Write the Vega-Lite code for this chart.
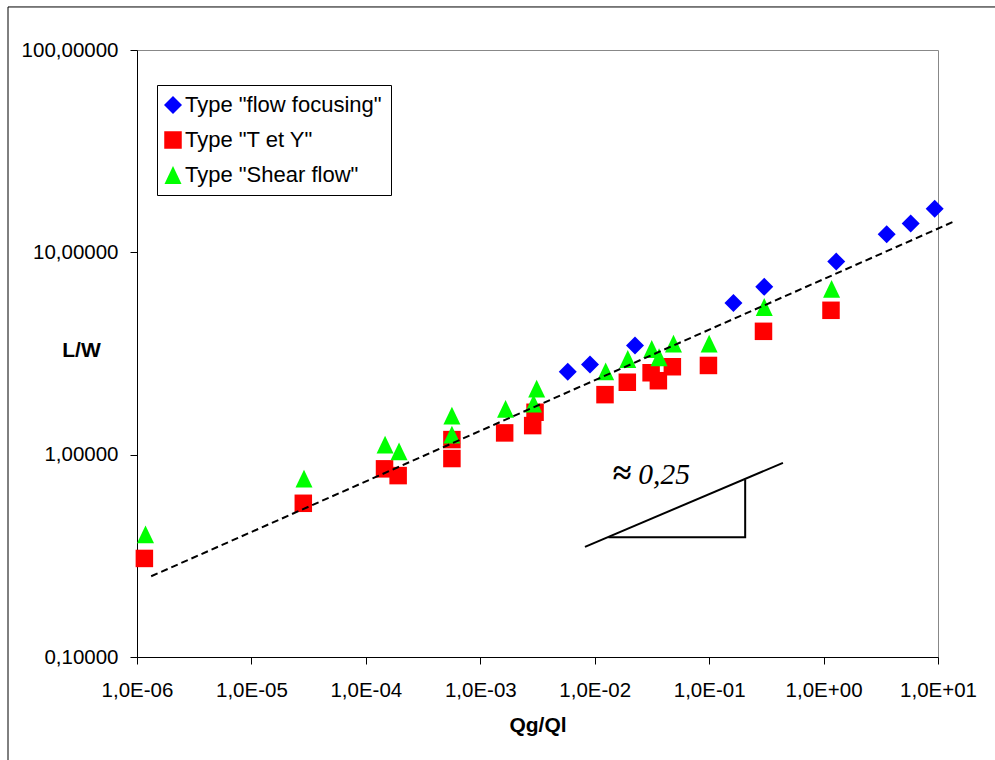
{
  "$schema": "https://vega.github.io/schema/vega-lite/v6.json",
  "width": 801,
  "height": 607,
  "autosize": {"type": "none"},
  "padding": {"left": 137, "top": 50, "right": 57, "bottom": 103},
  "background": "white",
  "config": {"view": {"stroke": "#888888", "strokeWidth": 1}, "font": "Liberation Sans"},
  "datasets": {
    "points": [
      {"type": "Type \"flow focusing\"", "x": 0.00581, "y": 2.57},
      {"type": "Type \"flow focusing\"", "x": 0.0091, "y": 2.79},
      {"type": "Type \"flow focusing\"", "x": 0.0225, "y": 3.46},
      {"type": "Type \"flow focusing\"", "x": 0.163, "y": 5.62},
      {"type": "Type \"flow focusing\"", "x": 0.303, "y": 6.75},
      {"type": "Type \"flow focusing\"", "x": 1.29, "y": 9.0},
      {"type": "Type \"flow focusing\"", "x": 3.56, "y": 12.3},
      {"type": "Type \"flow focusing\"", "x": 5.77, "y": 13.9},
      {"type": "Type \"flow focusing\"", "x": 9.36, "y": 16.4},
      {"type": "Type \"T et Y\"", "x": 1.16e-6, "y": 0.307},
      {"type": "Type \"T et Y\"", "x": 2.84e-5, "y": 0.575},
      {"type": "Type \"T et Y\"", "x": 1.456e-4, "y": 0.851},
      {"type": "Type \"T et Y\"", "x": 1.915e-4, "y": 0.788},
      {"type": "Type \"T et Y\"", "x": 5.65e-4, "y": 1.187},
      {"type": "Type \"T et Y\"", "x": 5.65e-4, "y": 0.957},
      {"type": "Type \"T et Y\"", "x": 1.633e-3, "y": 1.281},
      {"type": "Type \"T et Y\"", "x": 3.01e-3, "y": 1.62},
      {"type": "Type \"T et Y\"", "x": 2.87e-3, "y": 1.392},
      {"type": "Type \"T et Y\"", "x": 0.0123, "y": 1.98},
      {"type": "Type \"T et Y\"", "x": 0.01927, "y": 2.28},
      {"type": "Type \"T et Y\"", "x": 0.0311, "y": 2.54},
      {"type": "Type \"T et Y\"", "x": 0.036, "y": 2.32},
      {"type": "Type \"T et Y\"", "x": 0.0477, "y": 2.72},
      {"type": "Type \"T et Y\"", "x": 0.0986, "y": 2.76},
      {"type": "Type \"T et Y\"", "x": 0.2985, "y": 4.07},
      {"type": "Type \"T et Y\"", "x": 1.161, "y": 5.17},
      {"type": "Type \"Shear flow\"", "x": 1.187e-6, "y": 0.404},
      {"type": "Type \"Shear flow\"", "x": 2.88e-5, "y": 0.762},
      {"type": "Type \"Shear flow\"", "x": 1.472e-4, "y": 1.122},
      {"type": "Type \"Shear flow\"", "x": 1.95e-4, "y": 1.039},
      {"type": "Type \"Shear flow\"", "x": 5.65e-4, "y": 1.56},
      {"type": "Type \"Shear flow\"", "x": 5.65e-4, "y": 1.257},
      {"type": "Type \"Shear flow\"", "x": 1.663e-3, "y": 1.684},
      {"type": "Type \"Shear flow\"", "x": 3.11e-3, "y": 2.12},
      {"type": "Type \"Shear flow\"", "x": 2.92e-3, "y": 1.79},
      {"type": "Type \"Shear flow\"", "x": 0.01247, "y": 2.58},
      {"type": "Type \"Shear flow\"", "x": 0.01945, "y": 2.97},
      {"type": "Type \"Shear flow\"", "x": 0.0315, "y": 3.33},
      {"type": "Type \"Shear flow\"", "x": 0.0365, "y": 3.03},
      {"type": "Type \"Shear flow\"", "x": 0.0488, "y": 3.54},
      {"type": "Type \"Shear flow\"", "x": 0.1, "y": 3.54},
      {"type": "Type \"Shear flow\"", "x": 0.303, "y": 5.37},
      {"type": "Type \"Shear flow\"", "x": 1.175, "y": 6.6}
    ],
    "trend": [
      {"x": 1.33e-6, "y": 0.2506},
      {"x": 13.4, "y": 14.1}
    ],
    "slope": [
      {"x": 0.00822, "y": 0.3503},
      {"x": 0.4416, "y": 0.911}
    ],
    "leg": [
      {"o": 1, "x": 0.01315, "y": 0.3908},
      {"o": 2, "x": 0.2065, "y": 0.3908},
      {"o": 3, "x": 0.2065, "y": 0.753}
    ],
    "labels": [
      {"t": "≈", "x": 0.0173, "y": 0.714},
      {"t": "0,25", "x": 0.02404, "y": 0.714}
    ]
  },
  "layer": [
    {
      "data": {"name": "points"},
      "mark": {"type": "point", "filled": true, "opacity": 1, "strokeWidth": 0},
      "encoding": {
        "x": {
          "field": "x", "type": "quantitative",
          "scale": {"type": "log", "domain": [1e-6, 10], "nice": false},
          "axis": {
            "values": [1e-6, 1e-5, 1e-4, 1e-3, 1e-2, 1e-1, 1, 10],
            "labelExpr": "'1,0E' + (round(log(datum.value)/LN10) < 0 ? '-' : '+') + (abs(round(log(datum.value)/LN10)) < 10 ? '0' : '') + abs(round(log(datum.value)/LN10))",
            "grid": false, "tickSize": 7, "tickColor": "black", "domainColor": "black",
            "labelColor": "black", "labelFontSize": 20.5, "labelFont": "Liberation Sans",
            "labelPadding": 16, "labelFlush": false, "labelOverlap": false,
            "title": "Qg/Ql", "titleFontSize": 21, "titleFontWeight": "bold", "titleColor": "black",
            "titleFont": "Liberation Sans", "titleY": 68, "titleBaseline": "middle"
          }
        },
        "y": {
          "field": "y", "type": "quantitative",
          "scale": {"type": "log", "domain": [0.1, 100], "nice": false},
          "axis": {
            "values": [0.1, 1, 10, 100],
            "labelExpr": "replace(format(datum.value, '.5f'), '.', ',')",
            "grid": false, "tickSize": 7, "tickColor": "black", "domainColor": "black",
            "labelColor": "black", "labelFontSize": 20.5, "labelFont": "Liberation Sans",
            "labelPadding": 12, "labelFlush": false, "labelOverlap": false,
            "title": "L/W", "titleAngle": 0, "titleX": -56, "titleY": 300,
            "titleAlign": "center", "titleBaseline": "middle",
            "titleFontSize": 21, "titleFontWeight": "bold", "titleColor": "black", "titleFont": "Liberation Sans"
          }
        },
        "color": {
          "field": "type", "type": "nominal",
          "scale": {"domain": ["Type \"flow focusing\"", "Type \"T et Y\"", "Type \"Shear flow\""], "range": ["#0000FF", "#FF0000", "#00FF00"]},
          "legend": {
            "title": null, "orient": "none", "legendX": 20, "legendY": 35,
            "fillColor": "white", "strokeColor": "black", "padding": 9,
            "labelFontSize": 22, "labelFont": "Liberation Sans", "labelColor": "black", "labelLimit": 0,
            "symbolSize": 220, "rowPadding": 13, "labelOffset": 1, "symbolOffset": -4, "symbolStrokeWidth": 0
          }
        },
        "shape": {
          "field": "type", "type": "nominal",
          "scale": {"domain": ["Type \"flow focusing\"", "Type \"T et Y\"", "Type \"Shear flow\""], "range": ["diamond", "square", "M0,-1.05L1,1.05L-1,1.05Z"]}
        },
        "size": {
          "field": "type", "type": "nominal", "legend": null,
          "scale": {"domain": ["Type \"flow focusing\"", "Type \"T et Y\"", "Type \"Shear flow\""], "range": [324, 289, 335]}
        }
      }
    },
    {
      "data": {"name": "trend"},
      "mark": {"type": "line", "color": "black", "strokeWidth": 2, "strokeDash": [7, 4], "clip": false},
      "encoding": {
        "x": {"field": "x", "type": "quantitative", "scale": {"type": "log"}},
        "y": {"field": "y", "type": "quantitative", "scale": {"type": "log"}}
      }
    },
    {
      "data": {"name": "slope"},
      "mark": {"type": "line", "color": "black", "strokeWidth": 2},
      "encoding": {
        "x": {"field": "x", "type": "quantitative", "scale": {"type": "log"}},
        "y": {"field": "y", "type": "quantitative", "scale": {"type": "log"}}
      }
    },
    {
      "data": {"name": "leg"},
      "mark": {"type": "line", "color": "black", "strokeWidth": 2},
      "encoding": {
        "x": {"field": "x", "type": "quantitative", "scale": {"type": "log"}},
        "y": {"field": "y", "type": "quantitative", "scale": {"type": "log"}},
        "order": {"field": "o", "type": "quantitative"}
      }
    },
    {
      "data": {"name": "labels"},
      "transform": [{"filter": "datum.t == '≈'"}],
      "mark": {"type": "text", "font": "Liberation Serif", "fontSize": 34, "fontWeight": "bold", "align": "center", "baseline": "alphabetic", "color": "black"},
      "encoding": {
        "x": {"field": "x", "type": "quantitative", "scale": {"type": "log"}},
        "y": {"field": "y", "type": "quantitative", "scale": {"type": "log"}},
        "text": {"field": "t"}
      }
    },
    {
      "data": {"name": "labels"},
      "transform": [{"filter": "datum.t != '≈'"}],
      "mark": {"type": "text", "font": "Liberation Serif", "fontSize": 29.5, "fontStyle": "italic", "align": "left", "baseline": "alphabetic", "color": "black"},
      "encoding": {
        "x": {"field": "x", "type": "quantitative", "scale": {"type": "log"}},
        "y": {"field": "y", "type": "quantitative", "scale": {"type": "log"}},
        "text": {"field": "t"}
      }
    },
    {
      "data": {"values": [{}]},
      "mark": {"type": "rect", "fillOpacity": 0, "stroke": "black", "strokeWidth": 1, "clip": false},
      "encoding": {
        "x": {"datum": 7.46e-8, "type": "quantitative"},
        "x2": {"datum": 1000},
        "y": {"datum": 163.2, "type": "quantitative"},
        "y2": {"datum": 0.001}
      }
    }
  ]
}
